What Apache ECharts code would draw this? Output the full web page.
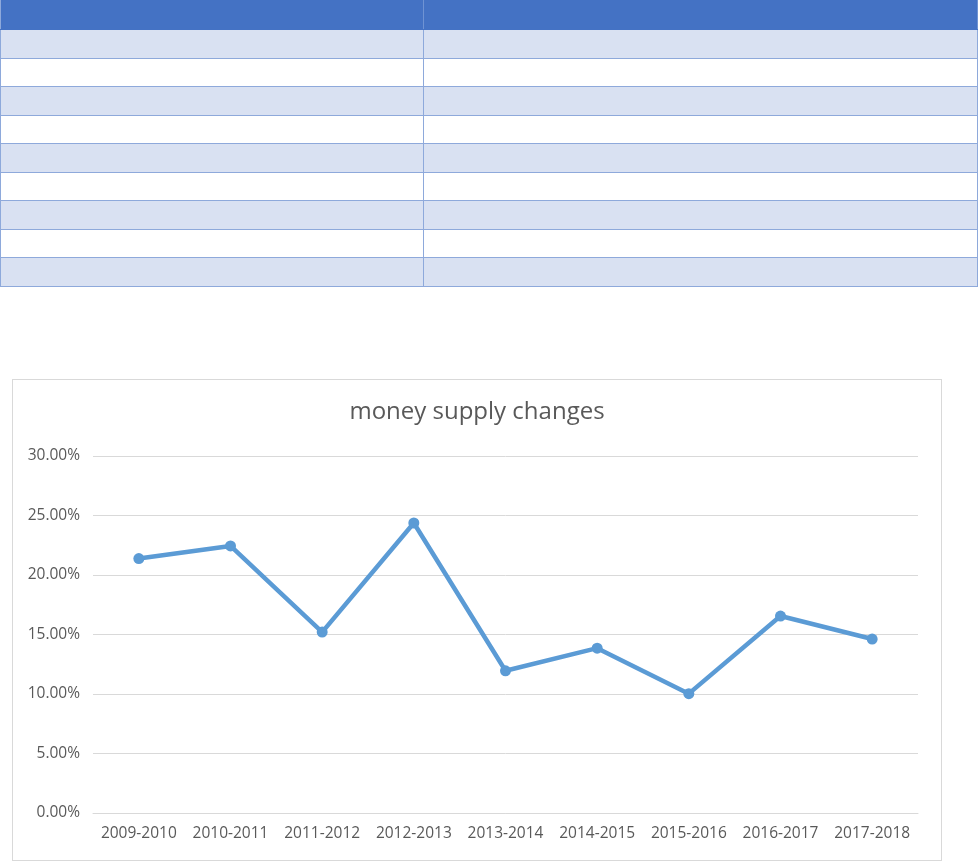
<!DOCTYPE html>
<html>
<head>
<meta charset="utf-8">
<title>money supply changes</title>
<script src="https://cdn.jsdelivr.net/npm/echarts@6/dist/echarts.min.js"></script>
<style>
  html, body { margin: 0; padding: 0; background: #fff; }
  body { width: 978px; height: 863px; position: relative; overflow: hidden; }
  #sheet { position: absolute; left: 0; top: 0; width: 978px; border-collapse: collapse; table-layout: fixed; }
  #sheet td { padding: 0; border-bottom: 1px solid #8ea9db; border-right: 1px solid #8ea9db; }
  #sheet td:first-child { border-left: 1px solid #8ea9db; width: 422px; }
  #sheet tr.head td { background: #4472c4; height: 29px; border-bottom: 1px solid #4472c4; border-right-color: #6f93d3; }
  #sheet tr.odd td { background: #d9e1f2; height: 27.5px; }
  #sheet tr.even td { background: #fff; height: 27.5px; }
  #box { position: absolute; left: 12px; top: 379px; width: 928px; height: 480px; border: 1px solid #d9d9d9; }
  #main { width: 100%; height: 100%; }
</style>
</head>
<body>
<table id="sheet"></table>
<div id="box"><div id="main"></div></div>
<script>
// 数据
const periods = ['2009-2010', '2010-2011', '2011-2012', '2012-2013', '2013-2014',
  '2014-2015', '2015-2016', '2016-2017', '2017-2018'];
const supplyChange = [0.2138, 0.2244, 0.1520, 0.2437, 0.1195, 0.1385, 0.1003, 0.1655, 0.1462];
const tableRows = 9; // 表格空行数

// 上面的空表格
const sheet = document.getElementById('sheet');
let html = '<tr class="head"><td></td><td></td></tr>';
for (let i = 0; i < tableRows; i++) {
  html += `<tr class="${i % 2 === 0 ? 'odd' : 'even'}"><td></td><td></td></tr>`;
}
sheet.innerHTML = html;

const myChart = echarts.init(document.getElementById('main'));
myChart.setOption({
  animation: false,
  textStyle: { fontFamily: 'Open Sans' },
  title: {
    text: 'money supply changes',
    left: 'center',
    top: 15,
    textStyle: { fontSize: 24, fontWeight: 'normal', color: '#595959', fontFamily: 'Open Sans' },
  },
  grid: { left: 80, right: 23, top: 76, bottom: 47 },
  xAxis: {
    type: 'category',
    data: periods,
    boundaryGap: true,
    axisLine: { lineStyle: { color: '#d9d9d9', width: 1 } },
    axisTick: { show: false },
    axisLabel: { color: '#595959', fontSize: 15.5, margin: 13, interval: 0, hideOverlap: false },
  },
  yAxis: {
    type: 'value',
    min: 0,
    max: 0.3,
    interval: 0.05,
    axisLine: { show: false },
    axisTick: { show: false },
    splitLine: { lineStyle: { color: '#d9d9d9', width: 1 } },
    axisLabel: {
      color: '#595959',
      fontSize: 15.5,
      margin: 13,
      formatter: (v) => `${(v * 100).toFixed(2)}%`,
    },
  },
  series: [
    {
      type: 'line',
      data: supplyChange,
      symbol: 'circle',
      symbolSize: 11,
      lineStyle: { color: '#5b9bd5', width: 4.5 },
      itemStyle: { color: '#5b9bd5' },
    },
  ],
});
</script>
</body>
</html>
